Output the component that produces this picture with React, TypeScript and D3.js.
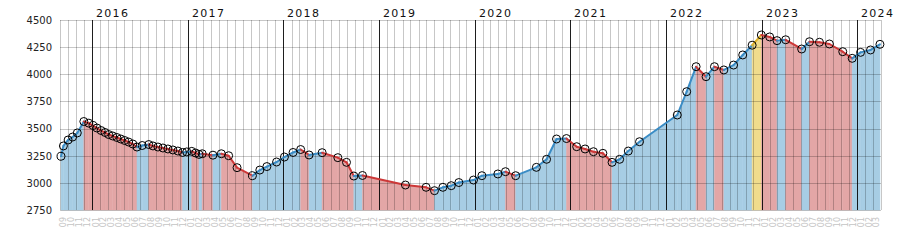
import React from "react";
import * as d3 from "d3";

const dates: string[] = [
  "2015-09-05","2015-09-14","2015-10-02","2015-10-19","2015-11-06","2015-12-01","2015-12-20",
  "2016-01-05","2016-01-20","2016-02-05","2016-02-20","2016-03-05","2016-03-20","2016-04-05",
  "2016-04-20","2016-05-05","2016-05-20","2016-06-05","2016-06-21","2016-07-11","2016-08-05",
  "2016-08-21","2016-09-09","2016-09-28","2016-10-17","2016-11-05","2016-11-24","2016-12-12",
  "2016-12-28","2017-01-16","2017-01-31","2017-02-13","2017-02-25","2017-04-07","2017-05-09",
  "2017-06-06","2017-07-08","2017-09-05","2017-10-03","2017-10-30","2017-12-06","2018-01-05",
  "2018-02-07","2018-03-08","2018-04-09","2018-05-29","2018-07-28","2018-08-30","2018-09-27",
  "2018-10-30","2019-04-12","2019-06-30","2019-08-01","2019-09-02","2019-10-04","2019-11-02",
  "2019-12-28","2020-01-29","2020-03-30","2020-04-28","2020-06-06","2020-08-24","2020-10-02",
  "2020-11-09","2020-12-17","2021-01-25","2021-02-26","2021-03-30","2021-05-05","2021-06-09",
  "2021-07-08","2021-08-10","2021-09-22","2022-02-13","2022-03-21","2022-04-26","2022-06-03",
  "2022-07-05","2022-08-10","2022-09-16","2022-10-21","2022-11-26","2022-12-31","2023-02-01",
  "2023-03-01","2023-04-03","2023-06-03","2023-07-03","2023-08-10","2023-09-17","2023-11-07",
  "2023-12-13","2024-01-14","2024-02-21","2024-03-28",
];

const values: number[] = [
  3245,3340,3395,3422,3460,3565,3550,
  3528,3505,3482,3464,3445,3432,3418,
  3404,3390,3376,3358,3330,3344,3353,
  3340,3330,3321,3312,3303,3293,3280,
  3285,3290,3275,3262,3268,3255,3268,
  3250,3140,3066,3118,3150,3192,3238,
  3280,3307,3257,3278,3232,3189,3063,
  3068,2980,2959,2928,2959,2974,3003,
  3026,3066,3082,3103,3066,3143,3217,
  3404,3408,3333,3312,3287,3272,3189,
  3217,3293,3379,3625,3840,4070,3978,
  4070,4040,4085,4178,4268,4362,4344,
  4310,4318,4233,4300,4295,4279,4208,
  4147,4202,4224,4276,
];

// segment ending at this date is highlighted (yellow)
const highlightDates: string[] = ["2022-12-31"];

const yTicks: number[] = [2750, 3000, 3250, 3500, 3750, 4000, 4250, 4500];
const yearTicks: number[] = [2016, 2017, 2018, 2019, 2020, 2021, 2022, 2023, 2024];
const domainStart = "2015-09-01";
const domainEnd = "2024-04-01";

const W = 900, H = 250;
const left = 60, right = 881, top = 20, bottom = 210;

export default function App() {
  const parse = d3.timeParse("%Y-%m-%d");
  const pts = dates.map((d, i) => ({ date: parse(d) as Date, v: values[i], key: d }));
  const x = d3.scaleTime().domain([parse(domainStart) as Date, parse(domainEnd) as Date]).range([left, right]);
  const y = d3.scaleLinear().domain([2750, 4500]).range([bottom, top]);

  const months = d3.timeMonth.range(parse(domainStart) as Date, d3.timeDay.offset(parse(domainEnd) as Date, 1));
  const monthCells = d3.timeMonth.range(parse(domainStart) as Date, parse(domainEnd) as Date);
  const fmtM = d3.timeFormat("%m");

  const segs = pts.slice(1).map((p, i) => {
    const a = pts[i];
    const kind = highlightDates.includes(p.key) ? "hl" : p.v >= a.v ? "up" : "down";
    return { a, b: p, kind };
  });
  const fillC: Record<string, string> = { up: "#a7cde4", down: "#e3a6a6", hl: "#f0dc8c" };
  const lineC: Record<string, string> = { up: "#3a8cc5", down: "#cd3838", hl: "#e2b428" };
  const area = d3.area<{ date: Date; v: number }>().x(d => x(d.date)).y0(y(2750)).y1(d => y(d.v));

  return (
    <svg width={W} height={H} style={{ position: "absolute", left: 0, top: 0, background: "#fff" }}
      fontFamily="'DejaVu Sans', Verdana, sans-serif">
      <rect x={0} y={0} width={W} height={H} fill="#fff" />
      {segs.map((s, i) => (
        <path key={"f" + i} d={area([s.a, s.b]) as string} fill={fillC[s.kind]} stroke={fillC[s.kind]} strokeWidth={0.5} />
      ))}
      {months.map((m, i) => (
        <line key={"m" + i} x1={Math.round(x(m)) + 0.5} x2={Math.round(x(m)) + 0.5} y1={top} y2={bottom}
          stroke="#000" strokeOpacity={0.22} strokeWidth={1} />
      ))}
      {yTicks.map(t => (
        <line key={"h" + t} x1={left} x2={right} y1={Math.round(y(t)) + 0.5} y2={Math.round(y(t)) + 0.5}
          stroke="#000" strokeOpacity={0.22} strokeWidth={1} />
      ))}
      {yearTicks.map(yr => {
        const xx = Math.round(x(new Date(yr, 0, 1))) + 0.5;
        return (
          <g key={"y" + yr}>
            <line x1={xx} x2={xx} y1={top} y2={bottom} stroke="#000" strokeOpacity={0.85} strokeWidth={1} />
            <text x={xx + 3.5} y={17} fontSize={11} letterSpacing={1.3} fill="#111">{yr}</text>
          </g>
        );
      })}
      {segs.map((s, i) => (
        <line key={"l" + i} x1={x(s.a.date)} y1={y(s.a.v)} x2={x(s.b.date)} y2={y(s.b.v)}
          stroke={lineC[s.kind]} strokeWidth={2} strokeLinecap="round" />
      ))}
      {pts.map((p, i) => (
        <circle key={"c" + i} cx={x(p.date)} cy={y(p.v)} r={4} fill="none" stroke="#000" strokeWidth={1} />
      ))}
      {yTicks.map(t => (
        <text key={"t" + t} x={52} y={y(t)} dy="0.38em" textAnchor="end" fontSize={10} fill="#222">{t}</text>
      ))}
      {monthCells.map((m, i) => {
        const cx = (x(m) + x(d3.timeMonth.offset(m, 1))) / 2;
        return (
          <text key={"ml" + i} transform={`translate(${cx},217) rotate(-90)`} textAnchor="end"
            dominantBaseline="central" fontSize={8} fill="#c4c4c4">{fmtM(m)}</text>
        );
      })}
    </svg>
  );
}
